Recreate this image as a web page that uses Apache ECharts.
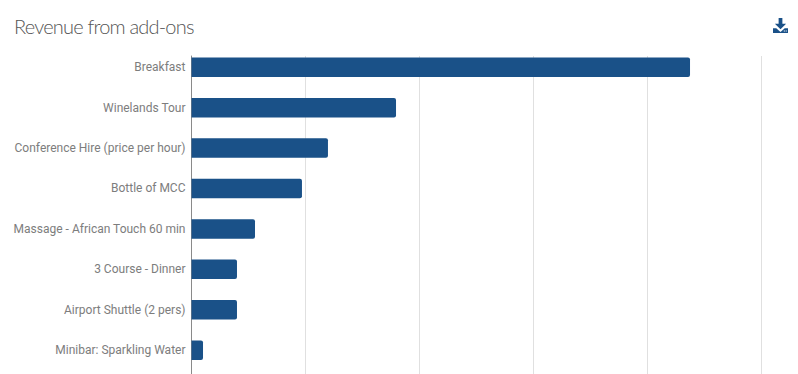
<!DOCTYPE html>
<html><head><meta charset="utf-8">
<style>html,body{margin:0;padding:0;background:#fff}#c{width:798px;height:374px}
#c svg text[style*="Lato"]{letter-spacing:-0.8px}</style>
<script src="https://cdn.jsdelivr.net/npm/echarts@6/dist/echarts.min.js"></script>
</head><body><div id="c"></div>
<script>
const categories = ["Breakfast","Winelands Tour","Conference Hire (price per hour)","Bottle of MCC","Massage - African Touch 60 min","3 Course - Dinner","Airport Shuttle (2 pers)","Minibar: Sparkling Water"];
const revenue = [4373,1794,1197,969,557,399,399,101];
const xMax = 5000, xStep = 1000;
const chart = echarts.init(document.getElementById('c'), null, {renderer:'svg'});
const hiddenX = {type:'value',min:0,max:xMax,interval:xStep};
chart.setOption({
  animation:false,
  title:{text:'Revenue from add-ons',left:9,top:11,textStyle:{fontFamily:'Lato',fontWeight:300,fontSize:20,color:'#555'}},
  toolbox:{right:10,top:18,padding:0,itemSize:15,feature:{saveAsImage:{title:'',icon:'path://M6 0H10V6H14L8 12L2 6H6ZM0 11H3.5L8 15L12.5 11H16V16H0ZM11.5 13.2V14.4H12.7V13.2ZM13.5 13.2V14.4H14.7V13.2Z'}},iconStyle:{color:'#1a5188',borderWidth:0}},
  grid:[
    {left:191,width:570,top:56,height:318},
    {left:191.5,width:570,top:47,height:323.4}
  ],
  xAxis:[
    Object.assign({gridIndex:0,axisLabel:{show:false},axisTick:{show:false},axisLine:{show:false},splitLine:{show:true,lineStyle:{color:'#e0e0e0',width:1}}},hiddenX),
    Object.assign({gridIndex:1,show:false},hiddenX)
  ],
  yAxis:[
    {gridIndex:0,type:'category',data:categories,inverse:true,axisLabel:{show:false},axisTick:{show:false},axisLine:{show:true,onZero:false,lineStyle:{color:'#8a8a8a',width:1}},splitLine:{show:false}},
    {gridIndex:1,type:'category',data:categories,inverse:true,axisTick:{show:false},axisLine:{show:false},splitLine:{show:false},axisLabel:{margin:6,fontFamily:'Roboto',fontSize:12,color:'#7d7d7d',interval:0}}
  ],
  series:[{type:'bar',xAxisIndex:1,yAxisIndex:1,data:revenue,barWidth:19.5,z:5,itemStyle:{color:'#1a5188',borderRadius:[0,2,2,0]}}]
});
</script></body></html>
